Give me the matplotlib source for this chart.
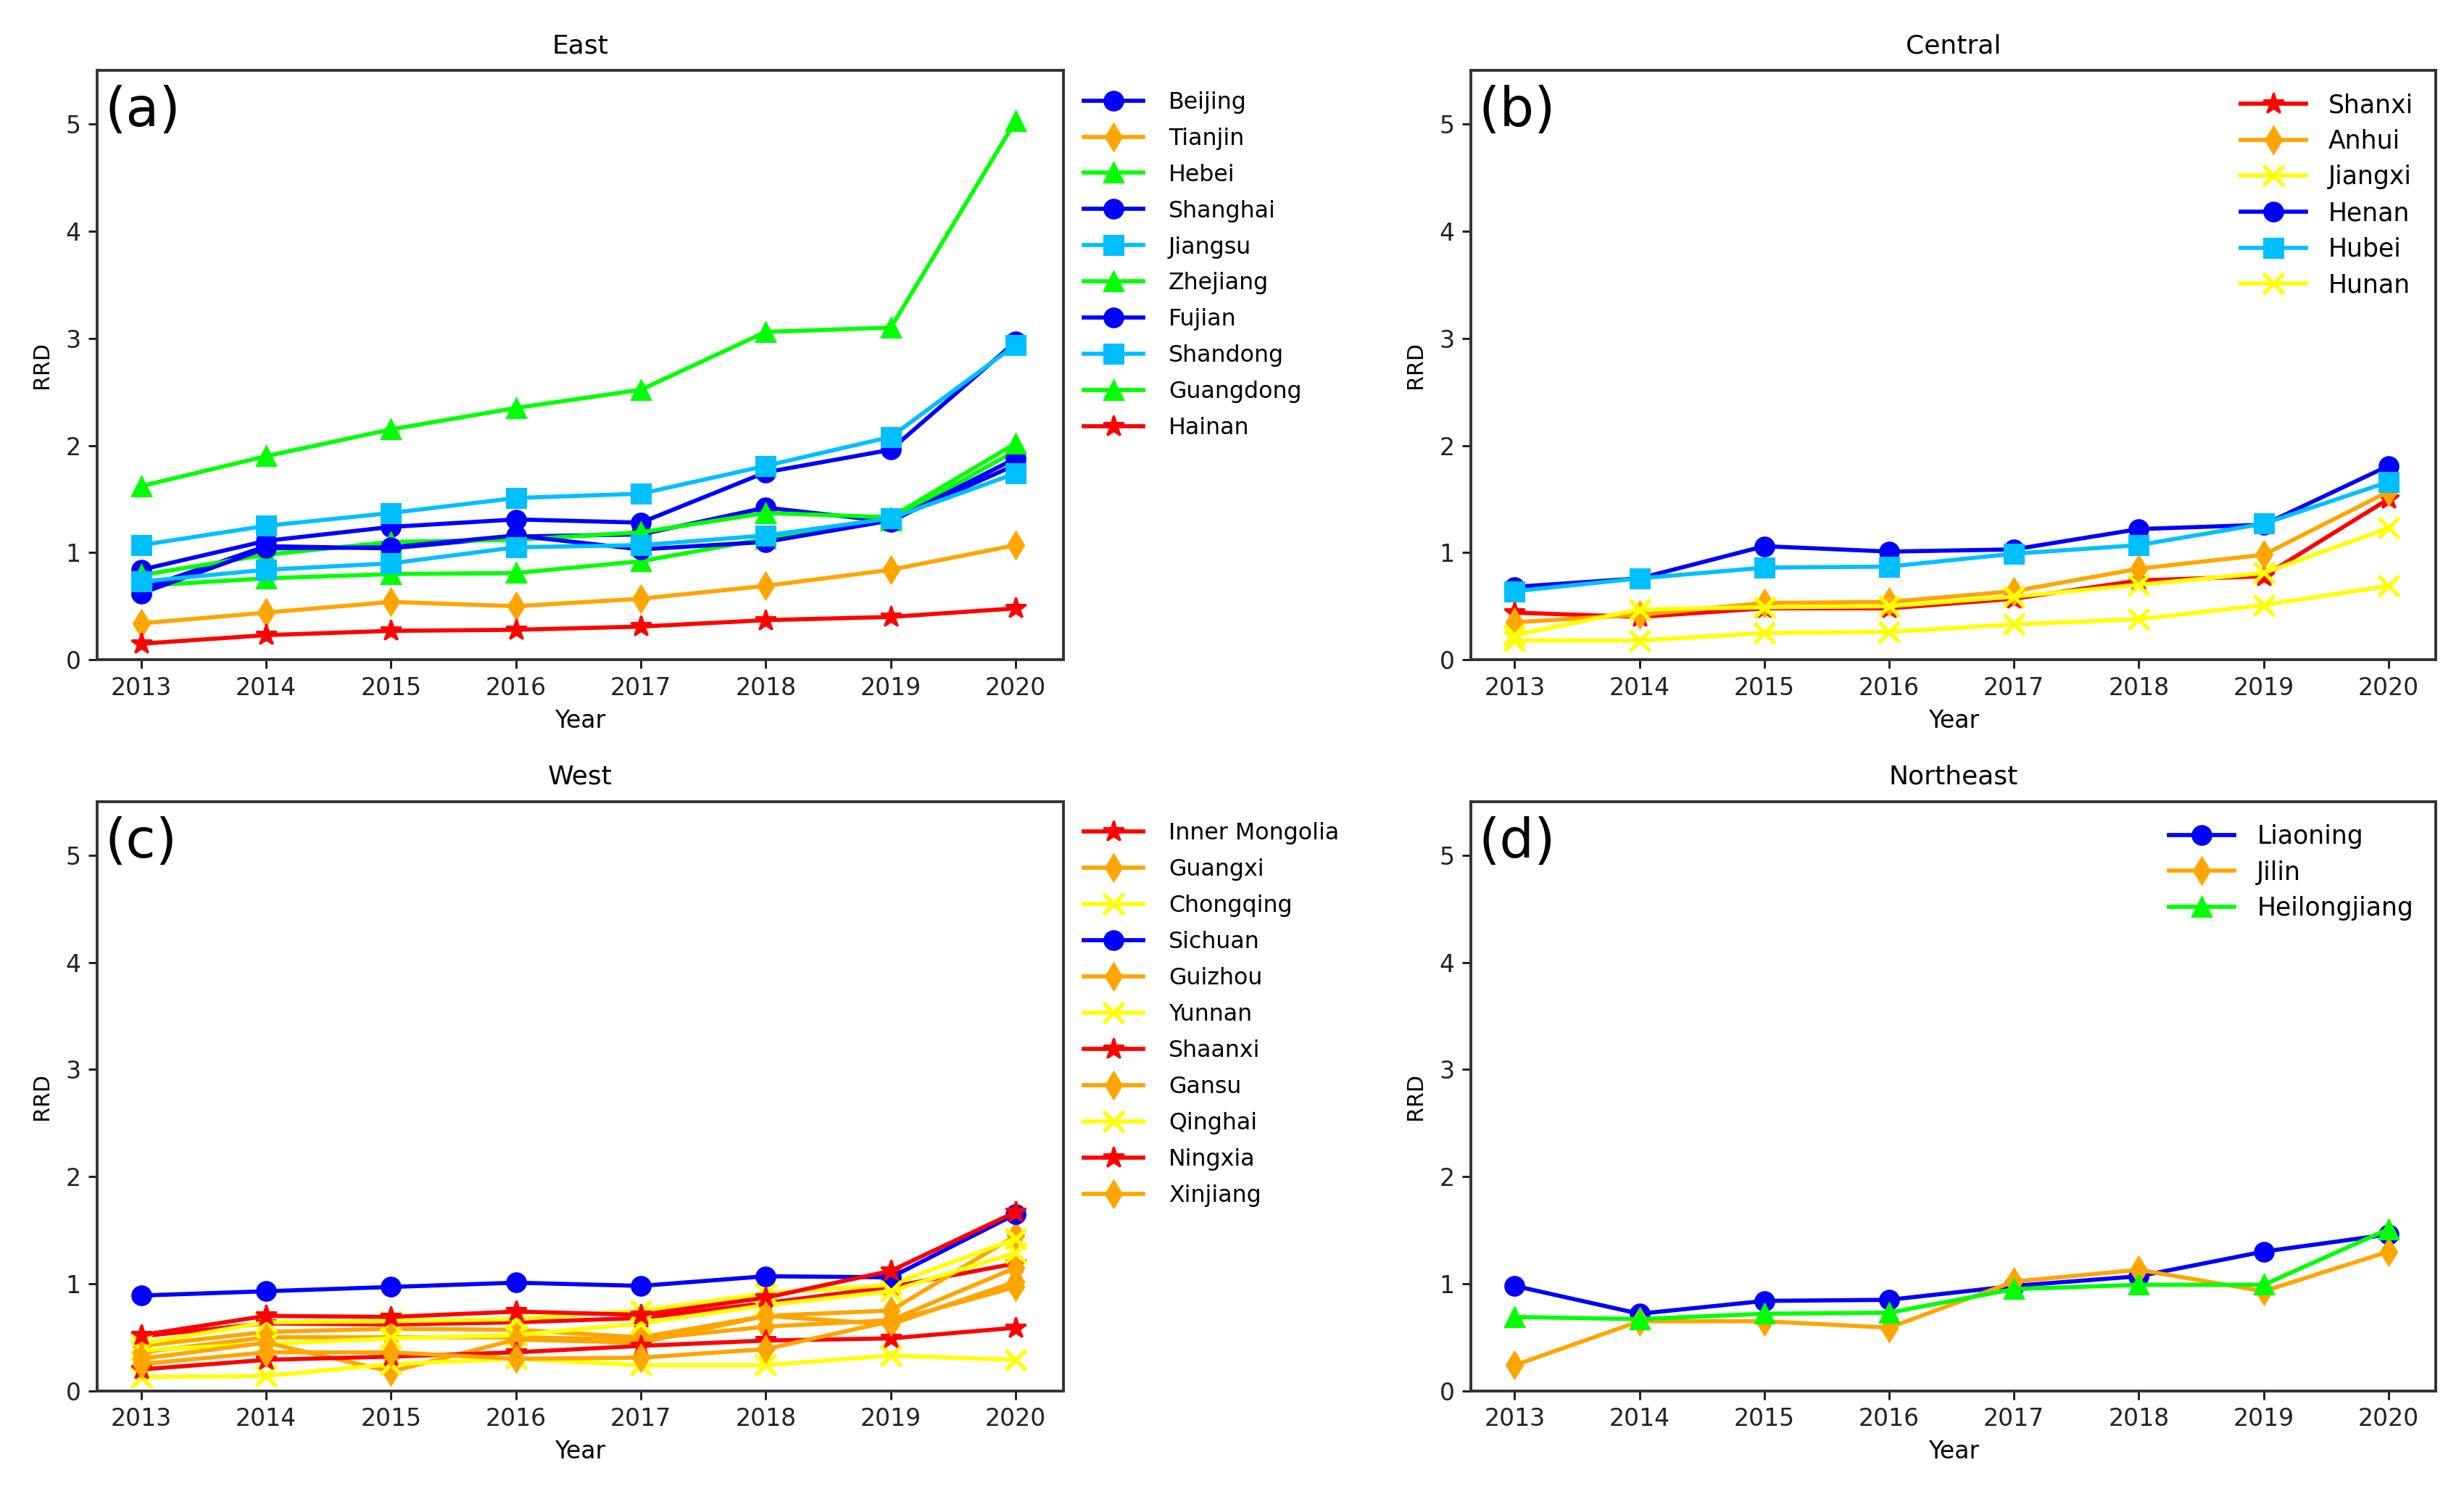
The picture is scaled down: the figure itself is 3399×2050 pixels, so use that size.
import matplotlib
matplotlib.use("Agg")
import matplotlib.pyplot as plt

plt.rcParams['font.family'] = ['Liberation Sans Narrow', 'DejaVu Sans']

years = [2013, 2014, 2015, 2016, 2017, 2018, 2019, 2020]

# East
east_names = ['Beijing', 'Tianjin', 'Hebei', 'Shanghai', 'Jiangsu',
              'Zhejiang', 'Fujian', 'Shandong', 'Guangdong', 'Hainan']
beijing = [0.84, 1.11, 1.24, 1.31, 1.28, 1.75, 1.96, 2.97]
tianjin = [0.34, 0.44, 0.54, 0.50, 0.57, 0.69, 0.84, 1.07]
hebei = [0.69, 0.76, 0.80, 0.81, 0.92, 1.13, 1.30, 1.95]
shanghai = [0.66, 1.06, 1.04, 1.15, 1.17, 1.42, 1.29, 1.88]
jiangsu = [1.07, 1.25, 1.37, 1.51, 1.55, 1.81, 2.08, 2.94]
zhejiang = [0.79, 0.98, 1.10, 1.12, 1.19, 1.37, 1.33, 2.02]
fujian = [0.62, 1.04, 1.05, 1.16, 1.03, 1.10, 1.30, 1.82]
shandong = [0.73, 0.84, 0.90, 1.05, 1.07, 1.16, 1.32, 1.74]
guangdong = [1.62, 1.90, 2.15, 2.35, 2.52, 3.06, 3.10, 5.03]
hainan = [0.15, 0.23, 0.27, 0.28, 0.31, 0.37, 0.40, 0.48]

# Central
central_names = ['Shanxi', 'Anhui', 'Jiangxi', 'Henan', 'Hubei', 'Hunan']
shanxi = [0.44, 0.40, 0.48, 0.48, 0.57, 0.74, 0.78, 1.50]
anhui = [0.35, 0.42, 0.53, 0.54, 0.64, 0.85, 0.98, 1.57]
jiangxi = [0.23, 0.47, 0.49, 0.50, 0.59, 0.70, 0.81, 1.23]
henan = [0.68, 0.76, 1.06, 1.01, 1.03, 1.22, 1.26, 1.81]
hubei = [0.64, 0.76, 0.86, 0.87, 0.99, 1.07, 1.27, 1.66]
hunan = [0.18, 0.18, 0.25, 0.26, 0.33, 0.38, 0.51, 0.69]

# West
west_names = ['Inner Mongolia', 'Guangxi', 'Chongqing', 'Sichuan', 'Guizhou',
              'Yunnan', 'Shaanxi', 'Gansu', 'Qinghai', 'Ningxia', 'Xinjiang']
inner_mongolia = [0.51, 0.63, 0.62, 0.64, 0.68, 0.82, 0.97, 1.19]
guangxi = [0.42, 0.55, 0.58, 0.57, 0.50, 0.70, 0.75, 1.45]
chongqing = [0.44, 0.64, 0.65, 0.67, 0.75, 0.91, 0.99, 1.42]
sichuan = [0.89, 0.93, 0.97, 1.01, 0.98, 1.07, 1.06, 1.65]
guizhou = [0.36, 0.50, 0.50, 0.50, 0.48, 0.60, 0.66, 1.15]
yunnan = [0.38, 0.44, 0.49, 0.52, 0.63, 0.80, 0.93, 1.29]
shaanxi = [0.52, 0.70, 0.69, 0.74, 0.71, 0.87, 1.12, 1.67]
gansu = [0.30, 0.45, 0.18, 0.48, 0.45, 0.70, 0.62, 1.02]
qinghai = [0.13, 0.14, 0.25, 0.30, 0.24, 0.24, 0.33, 0.29]
ningxia = [0.20, 0.29, 0.32, 0.36, 0.42, 0.47, 0.49, 0.59]
xinjiang = [0.25, 0.36, 0.36, 0.30, 0.31, 0.39, 0.65, 0.97]

# Northeast
northeast_names = ['Liaoning', 'Jilin', 'Heilongjiang']
liaoning = [0.98, 0.72, 0.84, 0.85, 0.98, 1.07, 1.30, 1.46]
jilin = [0.24, 0.65, 0.65, 0.59, 1.02, 1.13, 0.93, 1.30]
heilongjiang = [0.69, 0.67, 0.72, 0.73, 0.95, 0.99, 0.99, 1.51]

BLUE = '#0000ff'
ORANGE = '#ffa500'
GREEN = '#00ff00'
SKY = '#00bfff'
RED = '#ff0000'
YELLOW = '#ffff00'

east = [(beijing, BLUE, 'o'), (tianjin, ORANGE, 'd'), (hebei, GREEN, '^'),
        (shanghai, BLUE, 'o'), (jiangsu, SKY, 's'), (zhejiang, GREEN, '^'),
        (fujian, BLUE, 'o'), (shandong, SKY, 's'), (guangdong, GREEN, '^'),
        (hainan, RED, '*')]
central = [(shanxi, RED, '*'), (anhui, ORANGE, 'd'), (jiangxi, YELLOW, 'x'),
           (henan, BLUE, 'o'), (hubei, SKY, 's'), (hunan, YELLOW, 'x')]
west = [(inner_mongolia, RED, '*'), (guangxi, ORANGE, 'd'), (chongqing, YELLOW, 'x'),
        (sichuan, BLUE, 'o'), (guizhou, ORANGE, 'd'), (yunnan, YELLOW, 'x'),
        (shaanxi, RED, '*'), (gansu, ORANGE, 'd'), (qinghai, YELLOW, 'x'),
        (ningxia, RED, '*'), (xinjiang, ORANGE, 'd')]
northeast = [(liaoning, BLUE, 'o'), (jilin, ORANGE, 'd'), (heilongjiang, GREEN, '^')]

fig = plt.figure(figsize=(3399 / 216.8, 2050 / 216.8), dpi=216.8)

panels = [
    ('East', '(a)', east_names, east, [0.0395, 0.556, 0.392, 0.3966], 'out'),
    ('Central', '(b)', central_names, central, [0.597, 0.556, 0.3916, 0.3966], 'in'),
    ('West', '(c)', west_names, west, [0.0395, 0.064, 0.392, 0.3966], 'out'),
    ('Northeast', '(d)', northeast_names, northeast, [0.597, 0.064, 0.3916, 0.3966], 'in'),
]

for title, tag, names, series, pos, legpos in panels:
    ax = fig.add_axes(pos)
    for (vals, col, mk), name in zip(series, names):
        ms = 10 if mk == '*' else 8.5
        if mk == 'x':
            ms = 9
        ax.plot(years, vals, color=col, marker=mk, markersize=ms, linewidth=1.9,
                markeredgewidth=1.8 if mk == 'x' else 1.0, label=name)
    ax.set_xlim(2012.65, 2020.38)
    ax.set_ylim(0, 5.5)
    ax.set_xticks(years)
    ax.set_yticks([0, 1, 2, 3, 4, 5])
    ax.tick_params(labelsize=11, direction='out', length=4, width=1, colors='#222222')
    for sp in ax.spines.values():
        sp.set_linewidth(1.3)
        sp.set_color('#333333')
    ax.set_title(title, fontsize=12, pad=8)
    ax.set_xlabel('Year', fontsize=11, labelpad=4)
    ax.set_ylabel('RRD', fontsize=10, labelpad=6)
    ax.text(0.008, 0.975, tag, transform=ax.transAxes, fontsize=25, va='top', ha='left')
    if legpos == 'out':
        ax.legend(loc='upper left', bbox_to_anchor=(1.0, 1.0), frameon=False,
                  handlelength=2.6, handletextpad=1.1, labelspacing=0.6,
                  prop={'family': 'DejaVu Sans', 'size': 10.5})
    else:
        ax.legend(loc='upper right', frameon=False, fontsize=11.5, handlelength=2.6,
                  handletextpad=0.9, labelspacing=0.45, borderaxespad=0.5)

fig.savefig('out.png', dpi=216.8)
